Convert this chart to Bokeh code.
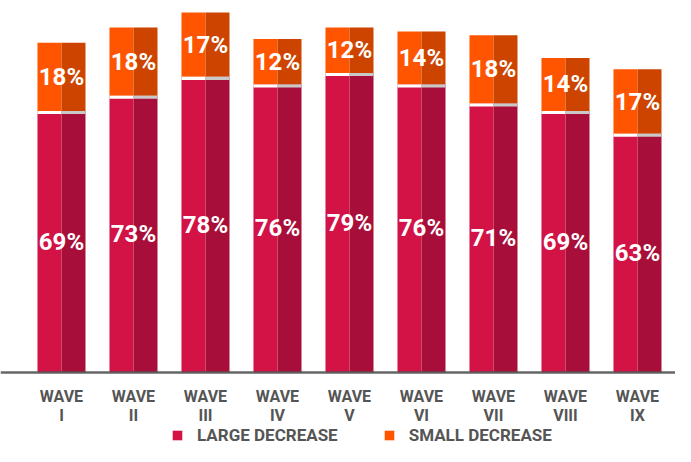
from bokeh.plotting import figure
from bokeh.models import ColumnDataSource, Range1d, FixedTicker, Legend, LegendItem
from bokeh.transform import dodge
from bokeh.core.properties import value
from bokeh.embed import file_html
from bokeh.resources import INLINE

waves = ["I", "II", "III", "IV", "V", "VI", "VII", "VIII", "IX"]
large_decrease = [69, 73, 78, 76, 79, 76, 71, 69, 63]
small_decrease = [18, 18, 17, 12, 12, 14, 18, 14, 17]

FONT = "Roboto"
RED_L, RED_R = "#D31245", "#A80E3A"
ORG_L, ORG_R = "#FF5500", "#CC4400"

xs = list(range(len(waves)))
total = [a + b for a, b in zip(large_decrease, small_decrease)]
src = ColumnDataSource(dict(
    x=xs,
    large=large_decrease,
    total=total,
    sep=[v - 0.8 for v in large_decrease],
    large_mid=[v / 2 for v in large_decrease],
    small_mid=[a + b / 2 for a, b in zip(large_decrease, small_decrease)],
    large_lbl=[f"{v}%" for v in large_decrease],
    small_lbl=[f"{v}%" for v in small_decrease],
))

p = figure(width=675, height=446, output_backend="svg", toolbar_location=None,
           x_range=Range1d(-0.847, 8.528), y_range=Range1d(-19.52, 98.15),
           min_border=0)
p.outline_line_color = None
p.grid.visible = False
p.yaxis.visible = False
p.background_fill_color = "white"

W = 0.667
HW = W / 2
left = dodge("x", -W / 4, range=p.x_range)
right = dodge("x", W / 4, range=p.x_range)

r_large = p.vbar(x=left, width=HW, bottom=0, top="large", source=src,
                 fill_color=RED_L, line_color=None)
p.vbar(x=right, width=HW, bottom=0, top="large", source=src,
       fill_color=RED_R, line_color=None)
r_small = p.vbar(x=left, width=HW, bottom="large", top="total", source=src,
                 fill_color=ORG_L, line_color=None)
p.vbar(x=right, width=HW, bottom="large", top="total", source=src,
       fill_color=ORG_R, line_color=None)
# separator strip
p.vbar(x=left, width=HW, bottom="sep", top="large", source=src,
       fill_color="white", line_color=None)
p.vbar(x=right, width=HW, bottom="sep", top="large", source=src,
       fill_color="#C9C9C9", line_color=None)

for ycol, tcol in (("large_mid", "large_lbl"), ("small_mid", "small_lbl")):
    p.text(x="x", y=ycol, text=tcol, source=src, text_color="white",
           text_font=value(FONT), text_font_style="bold",
           text_font_size="24px", text_align="center", text_baseline="middle")

ax = p.xaxis[0]
ax.fixed_location = 0
ax.ticker = FixedTicker(ticks=xs)
ax.major_label_overrides = {i: f"WAVE\n{w}" for i, w in zip(xs, waves)}
ax.major_tick_line_color = None
ax.minor_tick_line_color = None
ax.axis_line_color = "#555555"
ax.axis_line_width = 2.5
ax.axis_line_alpha = 0.9
ax.major_label_text_font = FONT
ax.major_label_text_font_style = "bold"
ax.major_label_text_font_size = "16px"
ax.major_label_text_color = "#555555"
ax.major_label_text_line_height = 1.0
ax.major_label_standoff = 8

legend = Legend(items=[LegendItem(label="LARGE DECREASE", renderers=[r_large]),
                       LegendItem(label="SMALL DECREASE", renderers=[r_small])],
                orientation="horizontal", location=(171, 1))
legend.label_text_font = FONT
legend.label_text_font_style = "bold"
legend.label_text_font_size = "17px"
legend.label_text_color = "#555555"
legend.glyph_width = 12
legend.glyph_height = 12
legend.label_standoff = 14
legend.spacing = 45
legend.border_line_color = None
legend.background_fill_alpha = 0
legend.margin = 0
legend.padding = 0
p.add_layout(legend, "center")

open("out.html", "w").write(file_html(p, INLINE))
